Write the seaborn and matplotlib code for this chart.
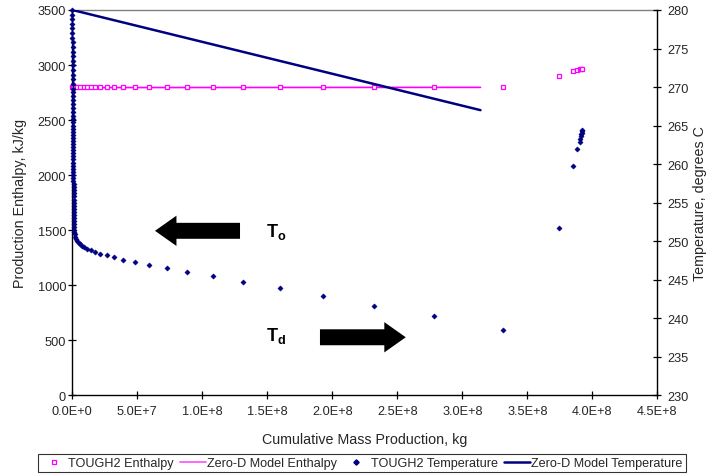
import matplotlib
matplotlib.use("Agg")
import matplotlib.pyplot as plt
import seaborn as sns
import numpy as np
import pandas as pd
from matplotlib.lines import Line2D
from matplotlib.patches import FancyArrow
from matplotlib.ticker import FuncFormatter, MultipleLocator

# ---------------- data ----------------
# TOUGH2 temperature (x in 1e6 kg, T in deg C)
t2_temp_x_M = [0.0, 0.02, 0.04, 0.06, 0.08, 0.10, 0.12, 0.14, 0.16, 0.18,
               0.20, 0.22, 0.24, 0.26, 0.28, 0.30, 0.32, 0.34, 0.36, 0.38,
               0.40, 0.42, 0.44, 0.46, 0.48, 0.50, 0.52, 0.54, 0.56, 0.58,
               0.60, 0.62, 0.64, 0.66, 0.68, 0.70, 0.72, 0.74, 0.76, 0.78,
               0.80, 0.82, 0.84, 0.86, 0.88, 0.90, 0.92, 0.94, 0.96, 0.98,
               1.00, 1.02, 1.04, 1.06, 1.08, 1.10, 1.12, 1.14, 1.16, 1.18,
               1.25, 1.35, 1.5, 1.7, 2.0, 2.5, 3.6, 4.8, 6.0, 7.2,
               9.0, 11.0,
               14.2, 17.5, 21.3, 26.5, 32.3, 39.2, 48.5, 59.2, 72.6, 88.5,
               108.0, 131.0, 159.5, 193.0, 232.0, 278.0, 331.0,
               374.0, 385.0, 388.5, 390.3, 390.8, 391.2, 391.5, 391.8, 392.0, 392.2]
t2_temp_C = [280.0, 279.4, 278.8, 278.2, 277.6, 277.0, 276.4, 275.8, 275.2, 274.6,
             274.0, 273.4, 272.8, 272.2, 271.6, 271.0, 270.4, 269.8, 269.3, 268.8,
             268.3, 267.8, 267.3, 266.8, 266.3, 265.8, 265.4, 265.0, 264.6, 264.2,
             263.8, 263.4, 263.0, 262.6, 262.2, 261.8, 261.4, 261.0, 260.6, 260.2,
             259.8, 259.4, 259.0, 258.6, 258.2, 257.8, 257.4, 257.0, 256.6, 256.2,
             255.8, 255.4, 255.0, 254.6, 254.2, 253.8, 253.4, 253.0, 252.6, 252.2,
             251.8, 251.5, 251.2, 250.9, 250.6, 250.3, 250.0, 249.8, 249.6, 249.4,
             249.2, 249.0,
             248.79, 248.57, 248.36, 248.14, 247.89, 247.61, 247.36, 246.97, 246.54, 246.06,
             245.46, 244.76, 243.9, 242.86, 241.64, 240.26, 238.43,
             251.7, 259.7, 262.0, 262.9, 263.3, 263.6, 263.9, 264.1, 264.3, 264.4]

# TOUGH2 enthalpy (x in 1e6 kg, kJ/kg)
t2_enth_x_M = [0.0, 0.3, 0.9, 1.8, 3.6, 6.0, 9.0, 11.0, 14.2, 17.5, 21.3, 26.5,
               32.3, 39.2, 48.5, 59.2, 72.6, 88.5, 108.0, 131.0, 159.5, 193.0,
               232.0, 278.0, 331.0, 374.0, 385.0, 388.5, 390.3, 391.2, 392.0]
t2_enth = [2797, 2797, 2797, 2797, 2797, 2797, 2797, 2797, 2797, 2797, 2797, 2797,
           2797, 2797, 2798, 2798, 2798, 2798, 2799, 2799, 2800, 2800,
           2801, 2802, 2803, 2900, 2942, 2957, 2963, 2965, 2966]

# Zero-D model
zd_x_M = [0.0, 314.0]
zd_enth = [2795, 2797]
zd_temp = [280.0, 267.0]

# arrows (x in 1e6 kg, y in kJ/kg)
arrow_o = dict(x=129.0, y=1494, dx=-65.4)
arrow_d = dict(x=190.5, y=527, dx=66.0)
label_o = dict(x=149.0, y=1494)
label_d = dict(x=149.0, y=545)

x_ticks_M = [0, 50, 100, 150, 200, 250, 300, 350, 400, 450]

# ---------------- style ----------------
sns.set_theme(style="white")
plt.rcParams["font.family"] = ["Liberation Sans", "DejaVu Sans"]
plt.rcParams["mathtext.fontset"] = "custom"
plt.rcParams["mathtext.bf"] = "Liberation Sans:bold"
plt.rcParams["mathtext.rm"] = "Liberation Sans"

MAG = "#FF00FF"
MAG_LIGHT = "#FF66FF"
NAVY = "#000080"
FS_TICK = 9.2
FS_LAB = 10.3
FS_LEG = 9.1

fig = plt.figure(figsize=(7.07, 4.77), dpi=100)
ax = fig.add_axes([0.1023, 0.1692, 0.9297 - 0.1023, 0.977 - 0.1692])
ax2 = ax.twinx()

def toM(v):
    return [a * 1e6 for a in v]

# Zero-D enthalpy
sns.lineplot(x=toM(zd_x_M), y=zd_enth, ax=ax, color=MAG, lw=1.2, sort=False)

# TOUGH2 enthalpy
ax.plot(toM(t2_enth_x_M), t2_enth, linestyle="none", marker="s", ms=3.0,
        mfc="white", mec=MAG, mew=0.9, clip_on=False, zorder=3)

# Zero-D temperature
sns.lineplot(x=toM(zd_x_M), y=zd_temp, ax=ax2, color=NAVY, lw=1.8, sort=False)

# TOUGH2 temperature
ax2.plot(toM(t2_temp_x_M), t2_temp_C, linestyle="none", marker="D", ms=2.7,
         mfc=NAVY, mec=NAVY, mew=0.3, clip_on=False, zorder=4)

# arrows
for a in (arrow_o, arrow_d):
    ax.add_patch(FancyArrow(a["x"] * 1e6, a["y"], a["dx"] * 1e6, 0,
                            width=145, head_width=275, head_length=16.5e6,
                            length_includes_head=True, color="black", lw=0,
                            zorder=5))
ax.text(label_o["x"] * 1e6, label_o["y"], r"$\mathbf{T_o}$", fontsize=13,
        va="center", ha="left", color="black")
ax.text(label_d["x"] * 1e6, label_d["y"], r"$\mathbf{T_d}$", fontsize=13,
        va="center", ha="left", color="black")

# axes
ax.set_xlim(0, 4.5e8)
ax.set_ylim(0, 3500)
ax2.set_ylim(230, 280)
ax.set_xticks([t * 1e6 for t in x_ticks_M])
ax.yaxis.set_major_locator(MultipleLocator(500))
ax2.yaxis.set_major_locator(MultipleLocator(5))

def sci(v, pos):
    if v == 0:
        return "0.0E+0"
    e = int(np.floor(np.log10(abs(v))))
    m = v / 10 ** e
    return f"{m:.1f}E+{e}"

ax.xaxis.set_major_formatter(FuncFormatter(sci))

for a in (ax, ax2):
    for s in a.spines.values():
        s.set_color("black")
        s.set_linewidth(1.0)
    a.spines["top"].set_visible(False)
ax.spines["top"].set_visible(True)
ax.spines["top"].set_color("#808080")
ax.spines["right"].set_visible(False)
ax2.spines["left"].set_visible(False)
ax2.spines["bottom"].set_visible(False)

ax.tick_params(axis="x", which="major", direction="inout", length=6,
               width=0.9, color="black", labelsize=FS_TICK, pad=4.0,
               bottom=True, top=False)
ax.tick_params(axis="y", which="major", direction="inout", length=6,
               width=0.9, color="black", labelsize=FS_TICK, pad=1.5,
               left=True, right=False)
ax2.tick_params(axis="y", which="major", direction="inout", length=6,
                width=0.9, color="black", labelsize=FS_TICK, pad=4.0, right=True)
ax.grid(False)
ax2.grid(False)

ax.set_xlabel("Cumulative Mass Production, kg", fontsize=FS_LAB, labelpad=10.5)
ax.set_ylabel("Production Enthalpy, kJ/kg", fontsize=FS_LAB, labelpad=7.5)
ax2.set_ylabel("Temperature, degrees C", fontsize=FS_LAB, labelpad=3)

handles = [
    Line2D([], [], linestyle="none", marker="s", ms=3.0, mfc="white", mec=MAG, mew=0.9),
    Line2D([], [], color=MAG_LIGHT, lw=1.4),
    Line2D([], [], linestyle="none", marker="D", ms=2.7, mfc=NAVY, mec=NAVY),
    Line2D([], [], color=NAVY, lw=1.8),
]
labels = ["TOUGH2 Enthalpy", "Zero-D Model Enthalpy", "TOUGH2 Temperature",
          "Zero-D Model Temperature"]
leg = fig.legend(handles, labels, loc="center", bbox_to_anchor=(0.512, 0.0273),
                 ncol=4, fontsize=FS_LEG, frameon=True, fancybox=False,
                 shadow=False, handlelength=2.0, handletextpad=0.15,
                 columnspacing=0.5, borderpad=0.25, borderaxespad=0.0)
leg.get_frame().set_edgecolor("black")
leg.get_frame().set_linewidth(0.8)

fig.savefig("out.png", dpi=100)
